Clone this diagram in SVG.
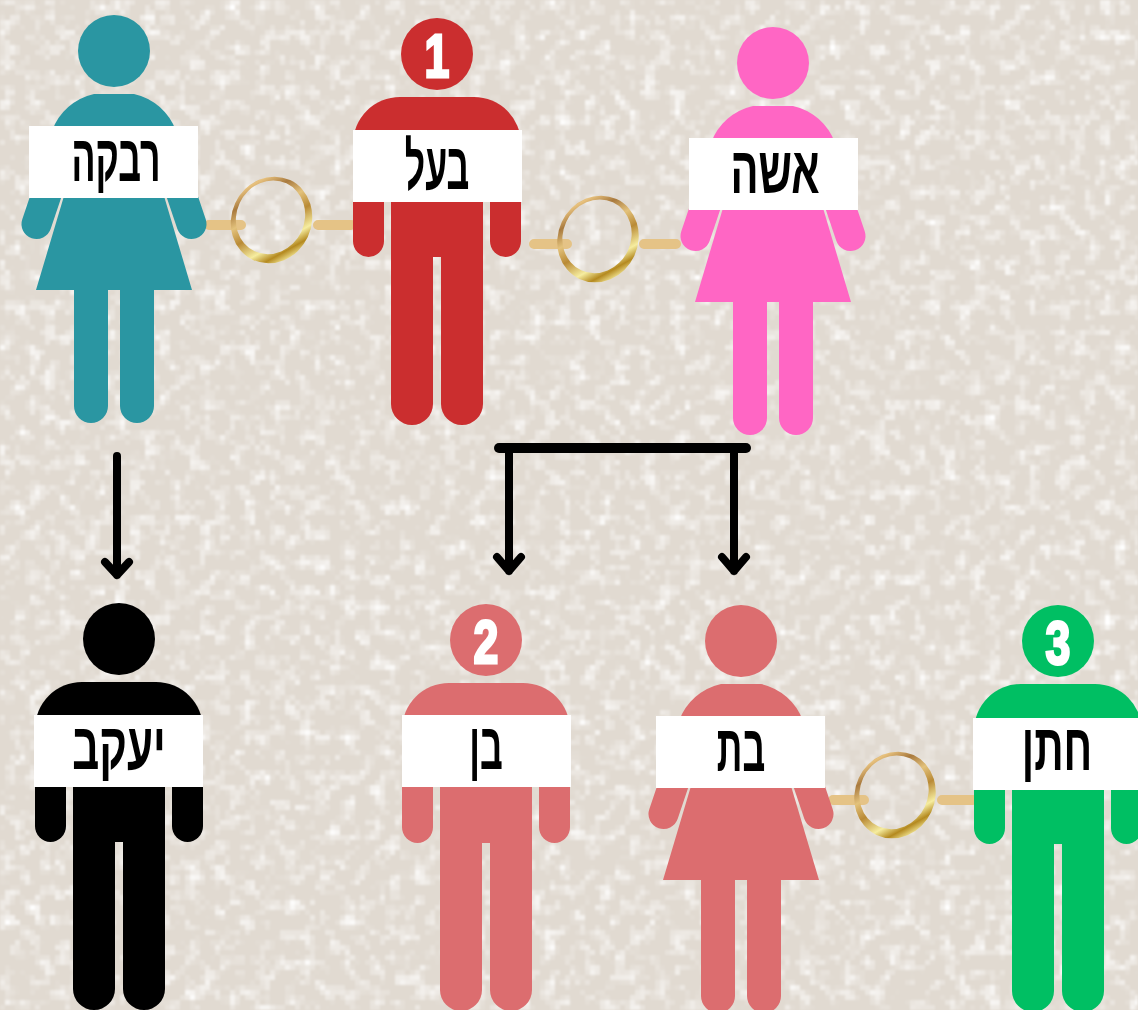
<svg xmlns="http://www.w3.org/2000/svg" width="1138" height="1010" viewBox="0 0 1138 1010">
<style>
.lbl{font-family:"Liberation Sans","DejaVu Sans",sans-serif;font-weight:700;font-size:66px;fill:#000;text-anchor:middle}
.num{font-family:"Liberation Sans","DejaVu Sans",sans-serif;font-weight:700;font-size:62px;fill:#fff;text-anchor:middle;stroke:#fff;stroke-width:3px}
.box{fill:#fff}
.bar{stroke:#e5c386;stroke-width:10;stroke-linecap:round;fill:none}
.arw{stroke:#000;stroke-width:8;stroke-linecap:round;stroke-linejoin:round;fill:none}
</style>
<defs>
<filter id="grain" filterUnits="userSpaceOnUse" x="0" y="0" width="1138" height="1010" color-interpolation-filters="sRGB">
<feTurbulence type="fractalNoise" baseFrequency="0.07" numOctaves="4" seed="7" result="t"/>
<feFlood x="2" y="2" width="1" height="1" flood-color="#000"/>
<feComposite x="0" y="0" width="5" height="5"/>
<feTile result="g"/>
<feComposite in="t" in2="g" operator="in"/>
<feMorphology operator="dilate" radius="2"/>
<feColorMatrix type="matrix" values="0 0 0 0 1  0 0 0 0 1  0 0 0 0 1  2.4 0 0 0 -1.15"/>
<feGaussianBlur stdDeviation="1" result="w"/>
<feFlood flood-color="#e1dad1" result="b"/>
<feMerge><feMergeNode in="b"/><feMergeNode in="w"/></feMerge>
</filter>
<linearGradient id="gold" x1="0" y1="0.1" x2="1" y2="0.9">
<stop offset="0" stop-color="#8f5f2c"/>
<stop offset=".12" stop-color="#e8c27e"/>
<stop offset=".25" stop-color="#a97a3e"/>
<stop offset=".4" stop-color="#e3c27c"/>
<stop offset=".55" stop-color="#b98a35"/>
<stop offset=".72" stop-color="#f6eda0"/>
<stop offset=".82" stop-color="#b4891f"/>
<stop offset=".9" stop-color="#f0e28f"/>
<stop offset="1" stop-color="#8f6a1c"/>
</linearGradient>
<symbol id="ring" overflow="visible" viewBox="-45 -45 90 90" width="90" height="90">
<path fill="url(#gold)" fill-rule="evenodd" transform="rotate(25)" d="M-40 0A40 44 0 1 1 40 0A40 44 0 1 1-40 0ZM-36 -2A34 37.500 0 1 0 32 -2A34 37.500 0 1 0-36 -2Z"/>
</symbol>
<g id="man">
<circle r="36"/>
<path d="M-84 95V90A47 47 0 0 1-37 43H37A47 47 0 0 1 84 90V95Z"/>
<path d="M-84 145H-53V187A15.500 16 0 0 1-84 187Z"/>
<path d="M53 145H84V187A15.500 16 0 0 1 53 187Z"/>
<path d="M-46 145H46V350A21 21 0 0 1 4 350V203H-4V350A21 21 0 0 1-46 350Z"/>
</g>
<g id="woman">
<circle r="36"/>
<path d="M-62 80A58 58 0 0 1-20 43H20A58 58 0 0 1 62 80Z"/>
<path d="M-77.500 173L-62 127" stroke="currentColor" stroke-width="30" stroke-linecap="round" fill="none"/>
<path d="M77.500 173L62 127" stroke="currentColor" stroke-width="30" stroke-linecap="round" fill="none"/>
<path d="M-50 145H50L78 239H40V355A17 17 0 0 1 6 355V239H-6V355A17 17 0 0 1-40 355V239H-78Z"/>
</g>
</defs>
<rect id="background" width="1138" height="1010" fill="#e1dad1" filter="url(#grain)"/>
<g id="connectors">
<path class="bar" d="M209 225H241M318 225H351M534 244H567M644 244H676M833 800H864M942 800H973"/>
<path d="M499 448H746" stroke="#000" stroke-width="10" stroke-linecap="round"/>
<path class="arw" d="M117 456V575M105 562L117 575L129 562"/>
<path class="arw" d="M509 448V571M497 557L509 571L521 557"/>
<path class="arw" d="M734 448V571M722 557L734 571L746 557"/>
</g>
<g id="rings">
<use href="#ring" x="226.500" y="175"/>
<use href="#ring" x="553" y="194"/>
<use href="#ring" x="850" y="750"/>
</g>
<g id="rivka" transform="translate(114 51)" fill="#2a96a2" color="#2a96a2"><use href="#woman"/><rect class="box" x="-85" y="75" width="169" height="72"/><text class="lbl" transform="translate(2 130) scale(.54 1)">רבקה</text></g>
<g id="baal" transform="translate(437 54)" fill="#cb2e2f" color="#cb2e2f"><use href="#man"/><rect class="box" x="-84" y="76" width="169" height="72"/><text class="lbl" transform="translate(0 135) scale(.54 1)">בעל</text><text class="num" transform="translate(0 23) scale(.72 1)">1</text></g>
<g id="isha" transform="translate(773 63)" fill="#ff66c4" color="#ff66c4"><use href="#woman"/><rect class="box" x="-84" y="75" width="169" height="72"/><text class="lbl" transform="translate(2 130) scale(.63 1)">אשה</text></g>
<g id="yaakov" transform="translate(119 639)" fill="#000" color="#000"><use href="#man"/><rect class="box" x="-85" y="76" width="169" height="72"/><text class="lbl" transform="translate(0 130) scale(.64 1)">יעקב</text></g>
<g id="ben" transform="translate(486 640)" fill="#dc6d6f" color="#dc6d6f"><use href="#man"/><rect class="box" x="-84" y="75" width="169" height="72"/><text class="lbl" transform="translate(0 129) scale(.54 1)">בן</text><text class="num" transform="translate(0 23) scale(.72 1)">2</text></g>
<g id="bat" transform="translate(741 641)" fill="#dc6d6f" color="#dc6d6f"><use href="#woman"/><rect class="box" x="-85" y="75" width="169" height="72"/><text class="lbl" transform="translate(0 130) scale(.54 1)">בת</text></g>
<g id="hatan" transform="translate(1058 641)" fill="#00bf63" color="#00bf63"><use href="#man"/><rect class="box" x="-85" y="77" width="170" height="72"/><text class="lbl" transform="translate(-1 129) scale(.62 1)">חתן</text><text class="num" transform="translate(0 23) scale(.72 1)">3</text></g>
</svg>
